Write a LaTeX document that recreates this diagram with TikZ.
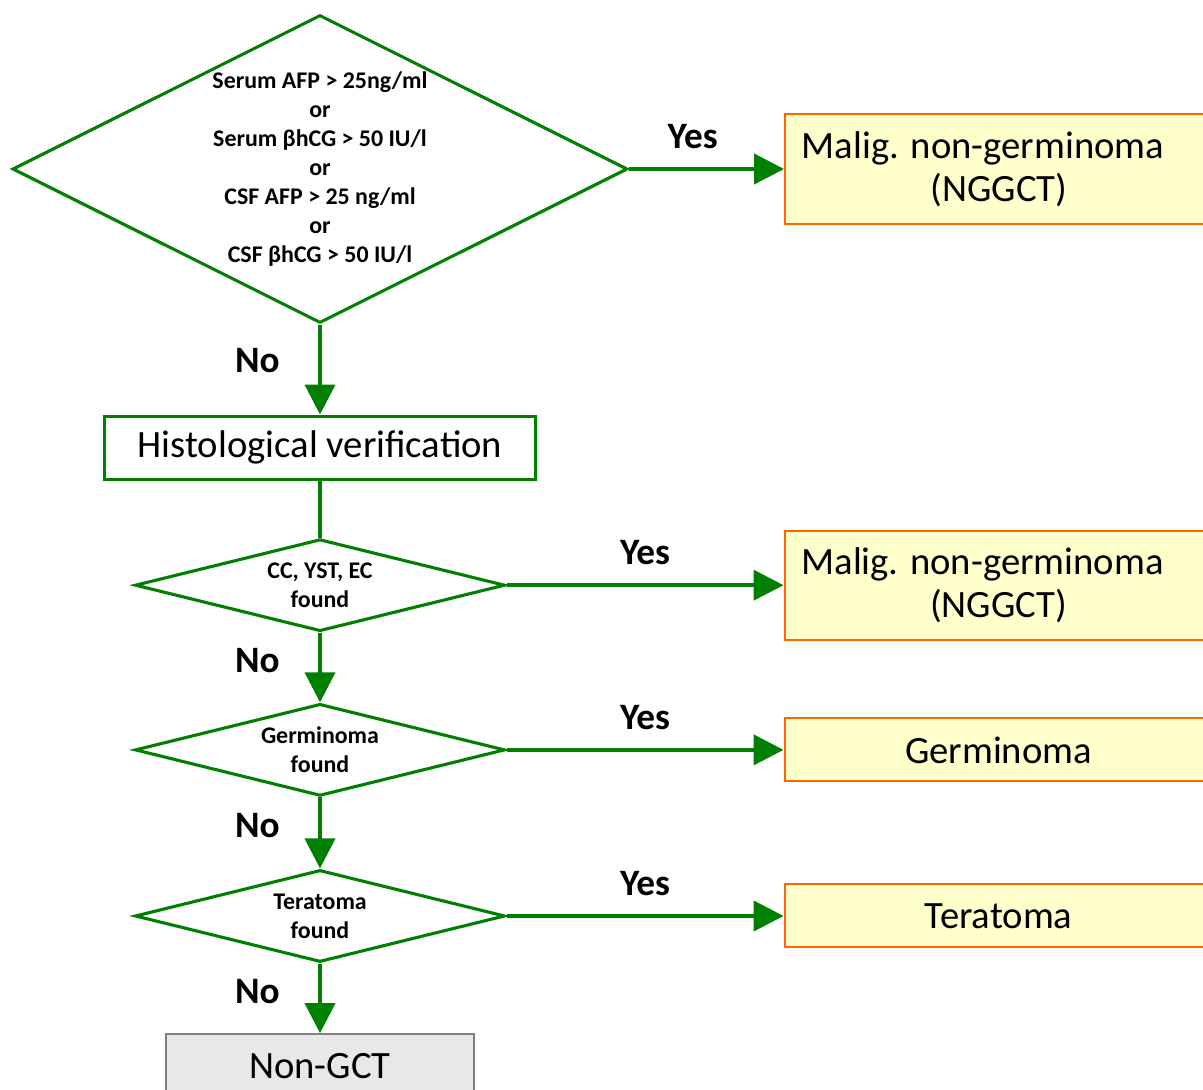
\documentclass[tikz,border=0pt]{standalone}
\usepackage{fontspec}
\setmainfont{Carlito}
\usetikzlibrary{positioning,shapes.geometric,arrows.meta}
\definecolor{flowgreen}{RGB}{0,128,0}
\definecolor{resultline}{RGB}{255,102,0}
\definecolor{resultfill}{RGB}{255,255,204}
\definecolor{nonfill}{RGB}{232,232,232}
\definecolor{nonline}{RGB}{128,128,128}
\tikzset{
  test/.style={diamond, draw=flowgreen, line width=2.2pt, inner sep=0pt,
    minimum width=9.25cm, minimum height=2.3cm},
  testtext/.style={align=center, inner sep=0pt,
    font=\bfseries\fontsize{17}{20.6}\selectfont},
  stepbox/.style={rectangle, draw=flowgreen, line width=2.2pt,
    minimum width=10.775cm, minimum height=1.575cm,
    font=\fontsize{27.5}{30.6}\selectfont},
  result/.style={rectangle, draw=resultline, fill=resultfill, line width=1.4pt,
    minimum width=10.7cm, minimum height=1.575cm, align=center,
    font=\fontsize{27.5}{30.6}\selectfont},
  flow/.style={flowgreen, line width=2.85pt,
    -{Triangle[length=0.75cm,width=0.75cm]}},
  yeslabel/.style={above=0.45cm, inner sep=0pt, text=black,
    font=\bfseries\fontsize{26.5}{30}\selectfont},
  nolabel/.style={left=0.96cm, pos=0.4, inner sep=0pt, text=black,
    font=\bfseries\fontsize{26.5}{30}\selectfont}
}
\begin{document}
\begin{tikzpicture}
                   \useasboundingbox (0,0) rectangle (30.075,-27.25);
                   \node[test, minimum width=15.375cm, minimum height=7.7cm,
                     label={[testtext]center:{Serum AFP > 25ng/ml\\ or\\ Serum βhCG > 50 IU/l\\ or\\ CSF AFP > 25 ng/ml\\ or\\ CSF βhCG > 50 IU/l}}]
                     (q_markers) at (8,-4.225) {};
                   \node[stepbox] (histo) [below=2.25cm of q_markers] {Histological verification};
                   \node[test, label={[testtext]center:{CC, YST, EC\\ found}}] (q_cc) [below=1.425cm of histo] {};
                   \node[test, label={[testtext]center:{Germinoma\\ found}}] (q_germ) [below=1.74cm of q_cc] {};
                   \node[test, label={[testtext]center:{Teratoma\\ found}}] (q_tera) [below=1.775cm of q_germ] {};
                   \node[result, minimum height=2.75cm] (r_ngg1) [right=3.875cm of q_markers] {Malig. non-germinoma\hspace*{0.8cm}\\ (NGGCT)};
                   \node[result, minimum height=2.725cm] (r_ngg2) [right=6.925cm of q_cc] {Malig. non-germinoma\hspace*{0.8cm}\\ (NGGCT)};
                   \node[result] (r_germ) [right=6.925cm of q_germ] {Germinoma};
                   \node[result] (r_tera) [right=6.925cm of q_tera] {Teratoma};
                   \node[result, draw=nonline, fill=nonfill, line width=1pt,
                     minimum width=7.7cm, minimum height=1.6cm] (r_non) [below=1.74cm of q_tera] {Non-GCT};
                    \path[flow]
                    (q_markers) edge node[yeslabel, pos=0.41] {Yes} (r_ngg1)
                                edge node[nolabel] {No} (histo)
                    (q_cc) edge node[yeslabel] {Yes} (r_ngg2)
                           edge node[nolabel] {No} (q_germ)
                    (q_germ) edge node[yeslabel] {Yes} (r_germ)
                             edge node[nolabel] {No} (q_tera)
                    (q_tera) edge node[yeslabel] {Yes} (r_tera)
                             edge node[nolabel] {No} (r_non)
                    ;
                    \draw[flowgreen, line width=2.85pt] (histo) -- (q_cc);
                \end{tikzpicture}
\end{document}
